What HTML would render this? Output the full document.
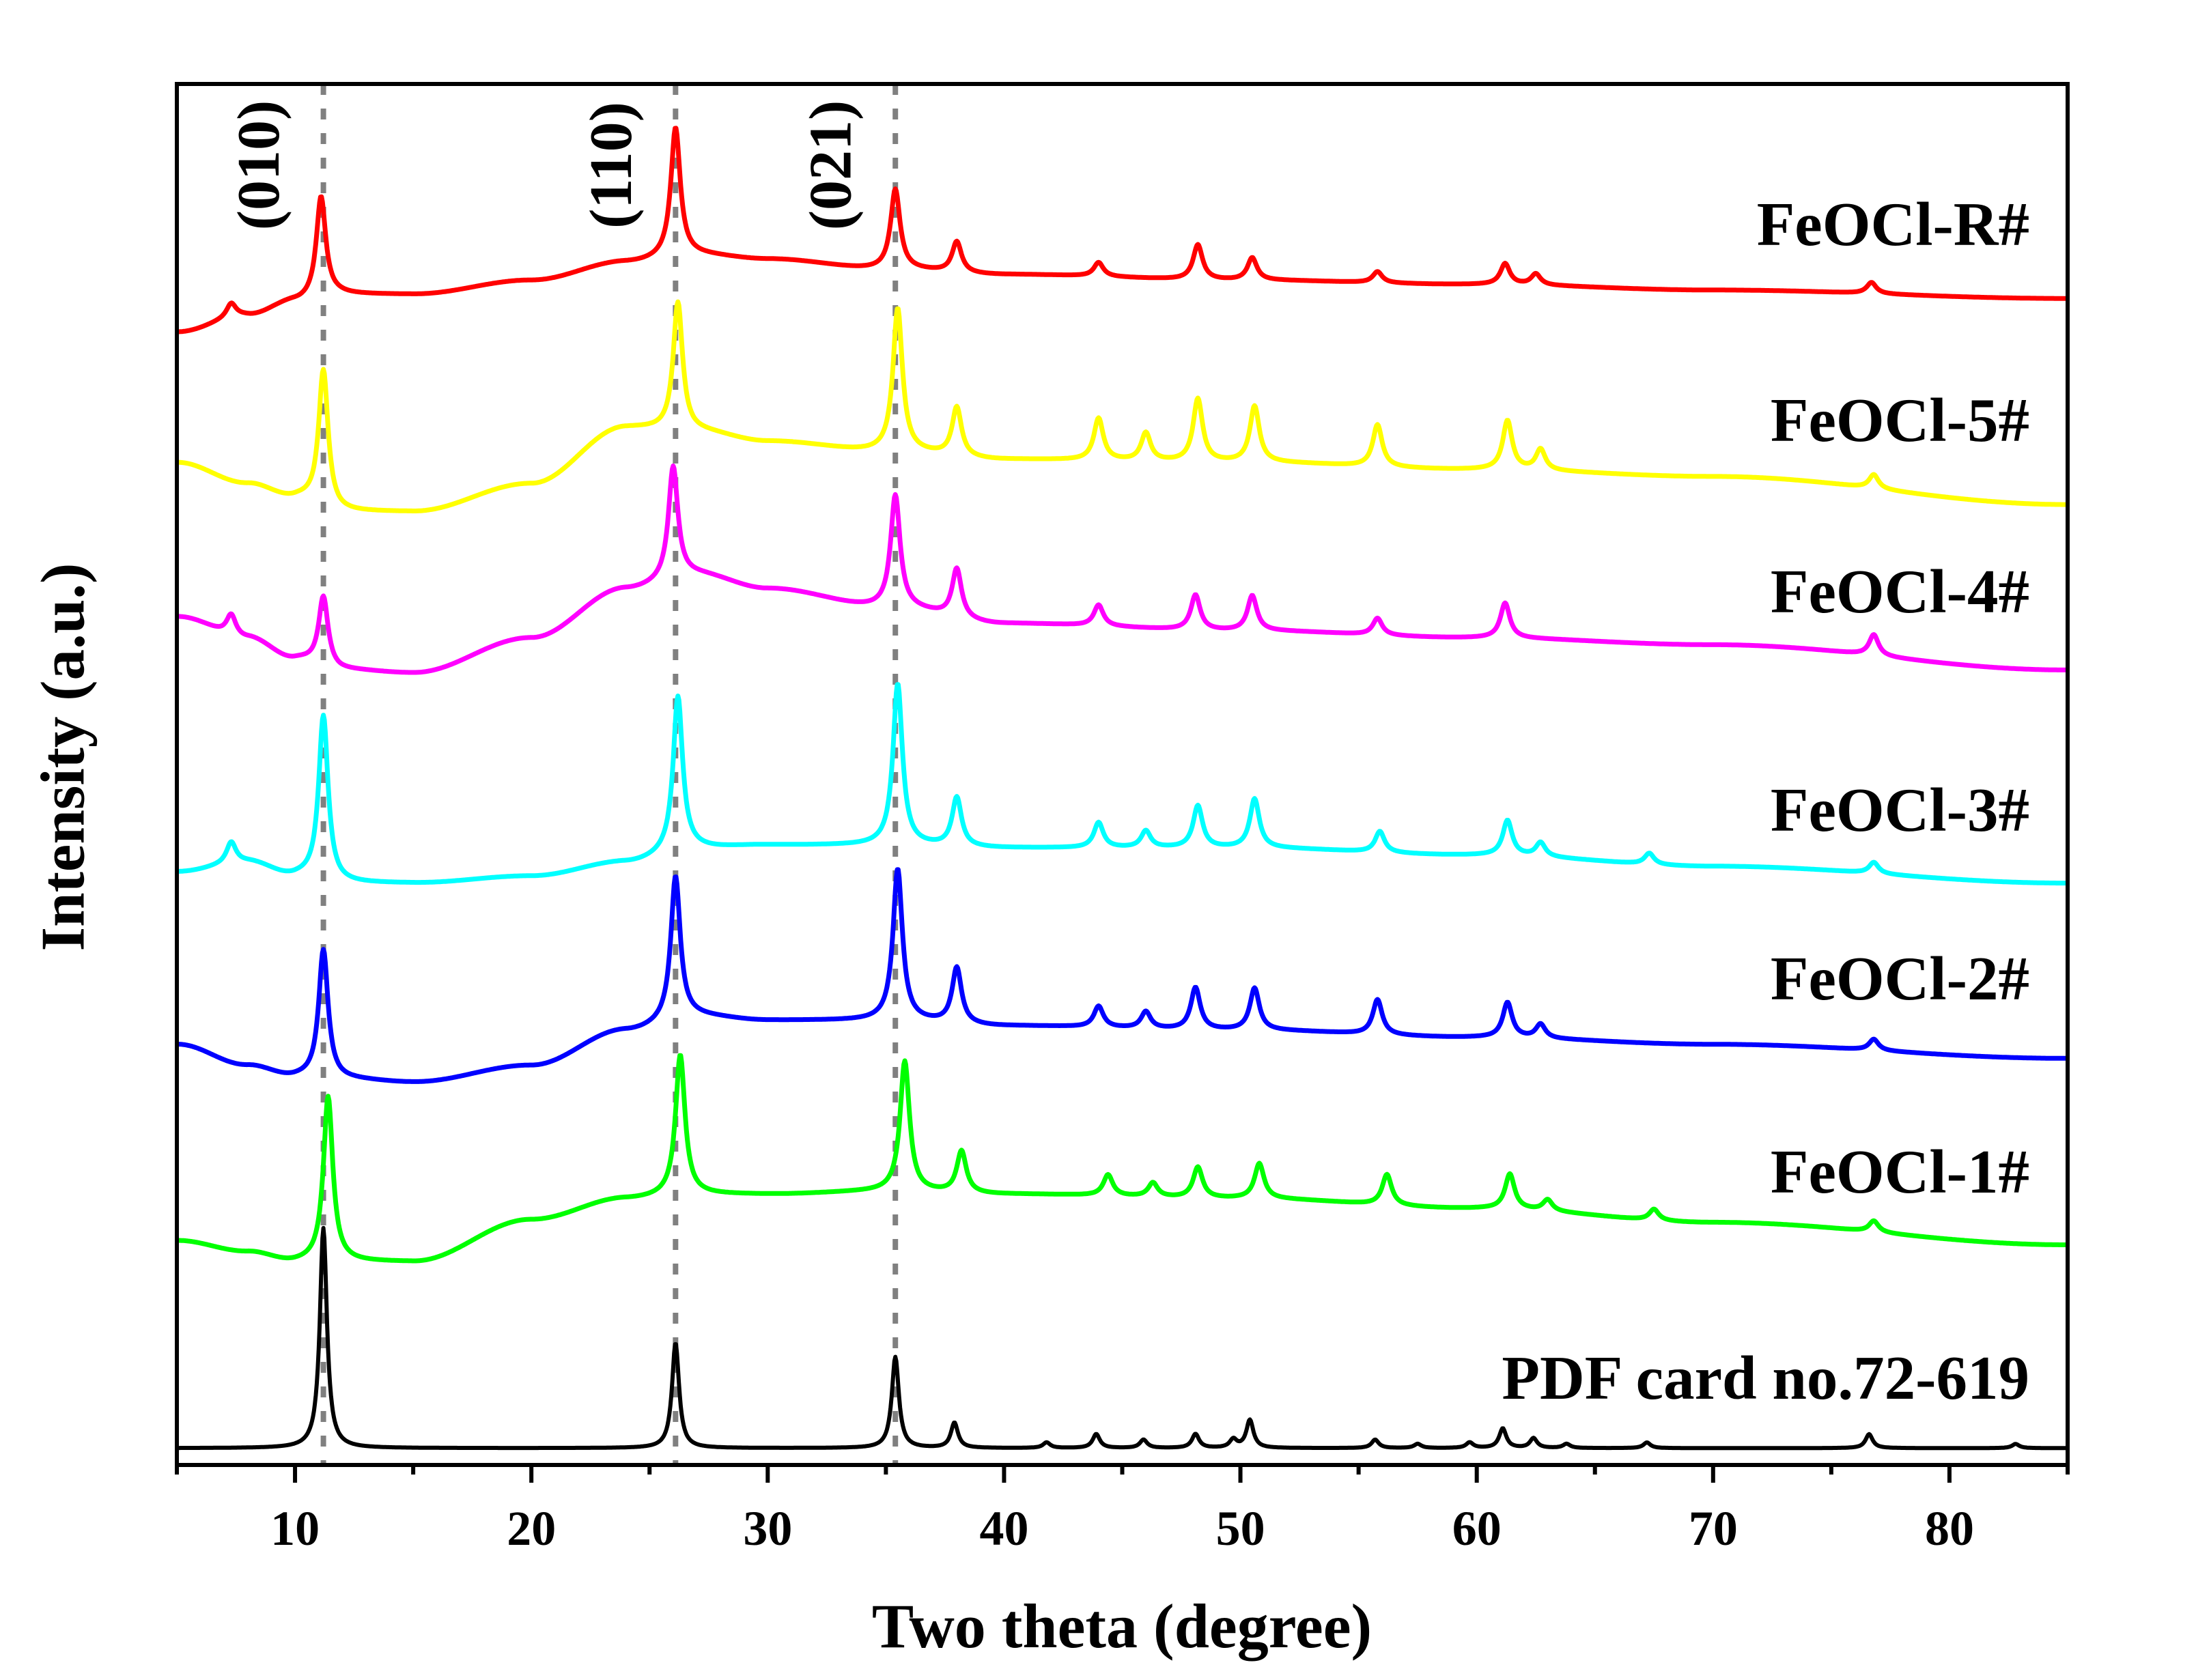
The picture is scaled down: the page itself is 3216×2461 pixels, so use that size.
<!DOCTYPE html>
<html><head><meta charset="utf-8"><style>
html,body{margin:0;padding:0;background:#fff;}
svg{display:block;font-family:"Liberation Serif",serif;font-weight:bold;}
</style></head><body>
<svg id="chart" width="3216" height="2461" viewBox="0 0 3216 2461">
<g id="guides"></g>
<g id="series"></g>
<rect x="259" y="123" width="2769" height="2023" fill="none" stroke="#000" stroke-width="6"/>
<g id="ticks"></g>
<g id="labels"></g>
<text x="1643" y="2413" font-size="92" text-anchor="middle">Two theta (degree)</text>
<text transform="translate(92,1109) rotate(-90)" font-size="91" text-anchor="middle" dominant-baseline="central">Intensity (a.u.)</text>
</svg>
<script>
const xKnots=[5,8,10,12,15,20,24,27,30,35,40,50,60,70,85];
const seriesNames=["FeOCl-R#","FeOCl-5#","FeOCl-4#","FeOCl-3#","FeOCl-2#","FeOCl-1#","PDF card no.72-619"];
const seriesColors=["#ff0000","#ffff00","#ff00ff","#00ffff","#0000ff","#00ff00","#000000"];
const baseR=[808,820,830,835,835,845,858,863,860,853,849,845,842,838,832];
const base5=[715,700,690,680,680,700,740,737,730,723,717,715,710,705,685];
const base4=[605,590,575,567,565,590,625,635,625,612,600,595,590,585,567];
const base3=[423,430,420,415,415,420,430,440,442,442,440,440,435,427,415];
const base2=[300,285,277,275,273,285,310,320,317,317,313,310,305,300,290];
const base1=[160,152,145,145,145,175,190,193,193,195,193,190,183,173,157];
const basePDF=[12,12,12,12,12,12,12,12,12,12,12,12,12,12,12];
const peakPosR=[7.3,11.1,26.1,35.4,38,44,48.2,50.5,55.8,61.2,62.5,76.7];
const peakHtR=[10,72,92,57,22,10,25,16,8,15,8,8];
const peakPos5=[11.2,26.2,35.5,38,44,46,48.2,50.6,55.8,61.3,62.7,76.8];
const peakHt5=[98,92,102,35,30,20,45,40,30,35,15,10];
const peakPos4=[7.3,11.2,26,35.4,38,44,48.1,50.5,55.8,61.2,76.8];
const peakHt4=[15,50,80,80,35,15,25,25,12,25,15];
const peakPos3=[7.3,11.2,26.2,35.5,38,44,46,48.2,50.6,55.9,61.3,62.7,67.3,76.8];
const peakHt3=[15,118,110,115,35,18,12,30,35,15,25,10,8,8];
const peakPos2=[11.2,26.1,35.5,38,44,46,48.1,50.6,55.8,61.3,62.7,76.8];
const peakHt2=[92,102,108,40,15,12,30,30,25,25,10,8];
const peakPos1=[11.4,26.3,35.8,38.2,44.4,46.3,48.2,50.8,56.2,61.4,63,67.5,76.8];
const peakHt1=[118,100,93,30,15,10,22,25,22,25,8,8,8];
const peakPosPDF=[11.2,26.1,35.4,37.9,41.8,43.9,45.9,48.1,49.7,50.4,55.7,57.5,59.7,61.1,62.4,63.8,67.2,76.6,82.8];
const peakHtPDF=[157,75,65,18,4,10,6,10,6,20,6,3,4,14,7,3,4,10,3];
const xTicks=[10,20,30,40,50,60,70,80];
const xMinor=[5,15,25,35,45,55,65,75,85];
const guidePos=[11.2,26.1,35.4];
const millerLabels=["(010)","(110)","(021)"];

const NS="http://www.w3.org/2000/svg";
const L=259,R=3028,T=123,B=2146;
function sx(x){return L+(x-5)/80*(R-L);}
function sy(v){return B-v*(B-T)/985;}
function baseAt(b,x){for(let i=0;i<xKnots.length-1;i++){if(x<=xKnots[i+1]){const t=(x-xKnots[i])/(xKnots[i+1]-xKnots[i]);const s=(1-Math.cos(Math.PI*t))/2;return b[i]+(b[i+1]-b[i])*s;}}return b[b.length-1];}
const bases=[baseR,base5,base4,base3,base2,base1,basePDF];
const pPos=[peakPosR,peakPos5,peakPos4,peakPos3,peakPos2,peakPos1,peakPosPDF];
const pHt=[peakHtR,peakHt5,peakHt4,peakHt3,peakHt2,peakHt1,peakHtPDF];
const g=document.getElementById('series');
for(let s=0;s<7;s++){
  const w=s===6?0.18:0.24;
  let d="";
  for(let x=5;x<=85.0001;x+=0.04){
    let v=baseAt(bases[s],x);
    for(let k=0;k<pPos[s].length;k++){const u=(x-pPos[s][k])/w;v+=pHt[s][k]/(1+u*u);}
    d+=(d?"L":"M")+sx(x).toFixed(1)+","+sy(v).toFixed(1);
  }
  const p=document.createElementNS(NS,'path');
  p.setAttribute('d',d);p.setAttribute('fill','none');
  p.setAttribute('stroke',seriesColors[s]);p.setAttribute('stroke-width',s===6?'6':'7');
  p.setAttribute('stroke-linejoin','round');
  
  
  g.appendChild(p);
}
const gg=document.getElementById('guides');
guidePos.forEach((x,i)=>{
  const l=document.createElementNS(NS,'line');
  l.setAttribute('x1',sx(x));l.setAttribute('x2',sx(x));l.setAttribute('y1',T);l.setAttribute('y2',B);
  l.setAttribute('stroke','#808080');l.setAttribute('stroke-width','8');l.setAttribute('stroke-dasharray','16 20');
  
  
  gg.appendChild(l);
  const t=document.createElementNS(NS,'text');
  t.setAttribute('transform','translate('+(sx(x)-94)+',242) rotate(-90)');
  t.setAttribute('font-size','88');t.setAttribute('text-anchor','middle');t.setAttribute('dominant-baseline','central');
  t.textContent=millerLabels[i];
  
  
  gg.appendChild(t);
});
const tg=document.getElementById('ticks');
xTicks.forEach(x=>{
  const l=document.createElementNS(NS,'line');
  l.setAttribute('x1',sx(x));l.setAttribute('x2',sx(x));l.setAttribute('y1',B);l.setAttribute('y2',B+26);
  l.setAttribute('stroke','#000');l.setAttribute('stroke-width','6');
  
  
  tg.appendChild(l);
  const t=document.createElementNS(NS,'text');
  t.setAttribute('x',sx(x));t.setAttribute('y',2263);t.setAttribute('font-size','72');t.setAttribute('text-anchor','middle');
  t.textContent=x;
  
  
  tg.appendChild(t);
});
xMinor.forEach(x=>{
  const l=document.createElementNS(NS,'line');
  l.setAttribute('x1',sx(x));l.setAttribute('x2',sx(x));l.setAttribute('y1',B);l.setAttribute('y2',B+14);
  l.setAttribute('stroke','#000');l.setAttribute('stroke-width','6');
  
  
  tg.appendChild(l);
});
const labelY=[359,646,897,1217,1464,1747,2049];
const lg=document.getElementById('labels');
seriesNames.forEach((n,i)=>{
  const t=document.createElementNS(NS,'text');
  t.setAttribute('x',2972);t.setAttribute('y',labelY[i]);t.setAttribute('font-size','91');t.setAttribute('text-anchor','end');
  t.textContent=n;
  
  
  lg.appendChild(t);
});
</script>
</body></html>
